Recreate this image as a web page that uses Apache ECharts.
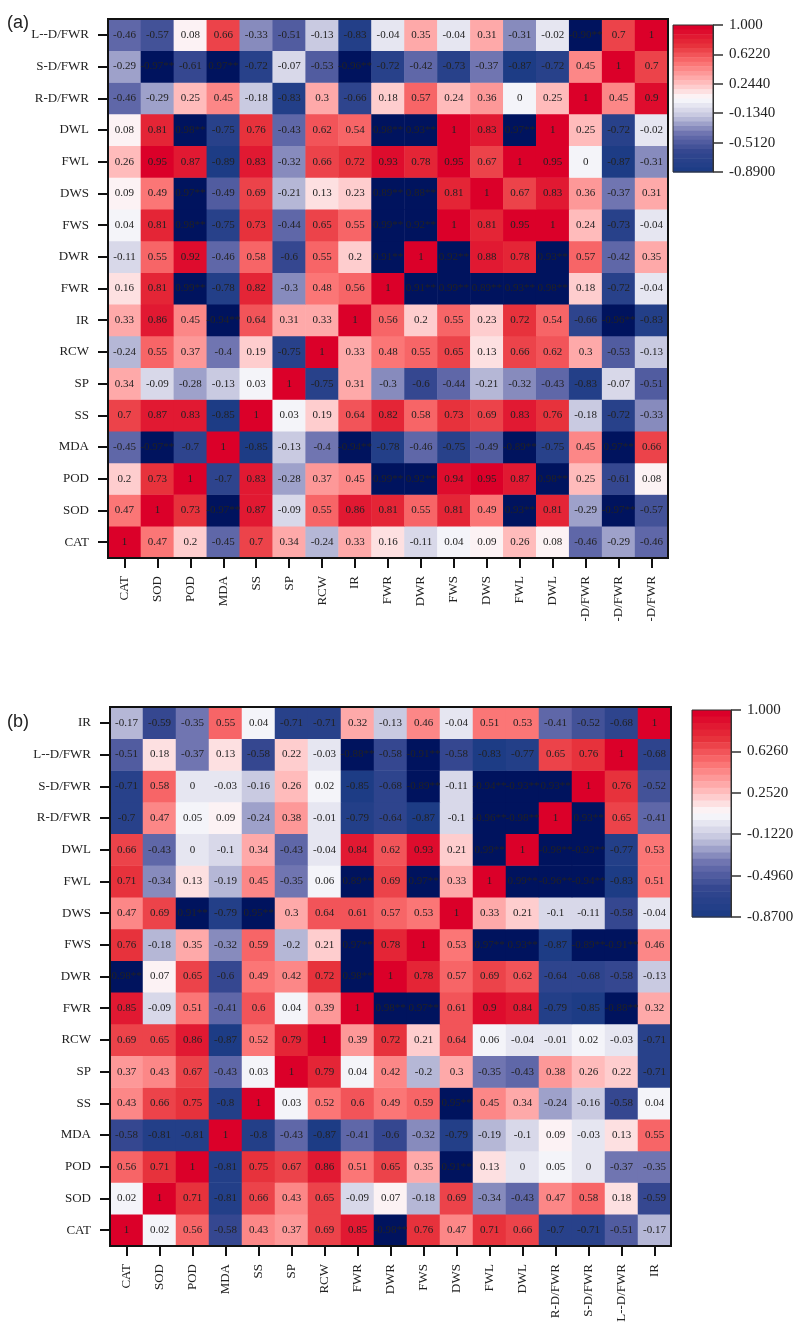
<!DOCTYPE html>
<html><head><meta charset="utf-8">
<style>html,body{margin:0;padding:0;background:#fff}#c{width:800px;height:1325px}</style>
<script src="https://cdn.jsdelivr.net/npm/echarts@6/dist/echarts.min.js"></script>
</head><body><div id="c"></div>
<script>
// Rows are listed bottom-to-top, columns left-to-right. Strings are the starred cells drawn navy.
const yLabelsA = ['CAT','SOD','POD','MDA','SS','SP','RCW','IR','FWR','DWR','FWS','DWS','FWL','DWL','R-D/FWR','S-D/FWR','L--D/FWR'];
const xLabelsA = ['CAT','SOD','POD','MDA','SS','SP','RCW','IR','FWR','DWR','FWS','DWS','FWL','DWL','-D/FWR','-D/FWR','-D/FWR'];
const matrixA = [
 [1,0.47,0.2,-0.45,0.7,0.34,-0.24,0.33,0.16,-0.11,0.04,0.09,0.26,0.08,-0.46,-0.29,-0.46],
 [0.47,1,0.73,'-0.97**',0.87,-0.09,0.55,0.86,0.81,0.55,0.81,0.49,'0.93**',0.81,-0.29,'-0.97**',-0.57],
 [0.2,0.73,1,-0.7,0.83,-0.28,0.37,0.45,'0.99**','0.92**',0.94,0.95,0.87,'0.98**',0.25,-0.61,0.08],
 [-0.45,'-0.97**',-0.7,1,-0.85,-0.13,-0.4,'-0.94**',-0.78,-0.46,-0.75,-0.49,'-0.89**',-0.75,0.45,'0.97**',0.66],
 [0.7,0.87,0.83,-0.85,1,0.03,0.19,0.64,0.82,0.58,0.73,0.69,0.83,0.76,-0.18,-0.72,-0.33],
 [0.34,-0.09,-0.28,-0.13,0.03,1,-0.75,0.31,-0.3,-0.6,-0.44,-0.21,-0.32,-0.43,-0.83,-0.07,-0.51],
 [-0.24,0.55,0.37,-0.4,0.19,-0.75,1,0.33,0.48,0.55,0.65,0.13,0.66,0.62,0.3,-0.53,-0.13],
 [0.33,0.86,0.45,'-0.94**',0.64,0.31,0.33,1,0.56,0.2,0.55,0.23,0.72,0.54,-0.66,'-0.96**',-0.83],
 [0.16,0.81,'0.99**',-0.78,0.82,-0.3,0.48,0.56,1,'0.91**','0.99**','0.89**','0.93**','0.98**',0.18,-0.72,-0.04],
 [-0.11,0.55,0.92,-0.46,0.58,-0.6,0.55,0.2,'0.91**',1,'0.92**',0.88,0.78,'0.93**',0.57,-0.42,0.35],
 [0.04,0.81,'0.98**',-0.75,0.73,-0.44,0.65,0.55,'0.99**','0.92**',1,0.81,0.95,1,0.24,-0.73,-0.04],
 [0.09,0.49,'0.97**',-0.49,0.69,-0.21,0.13,0.23,'0.89**','0.88**',0.81,1,0.67,0.83,0.36,-0.37,0.31],
 [0.26,0.95,0.87,-0.89,0.83,-0.32,0.66,0.72,0.93,0.78,0.95,0.67,1,0.95,0,-0.87,-0.31],
 [0.08,0.81,'0.98**',-0.75,0.76,-0.43,0.62,0.54,'0.98**','0.93**',1,0.83,'0.97**',1,0.25,-0.72,-0.02],
 [-0.46,-0.29,0.25,0.45,-0.18,-0.83,0.3,-0.66,0.18,0.57,0.24,0.36,0,0.25,1,0.45,0.9],
 [-0.29,'-0.97**',-0.61,'0.97**',-0.72,-0.07,-0.53,'-0.96**',-0.72,-0.42,-0.73,-0.37,-0.87,-0.72,0.45,1,0.7],
 [-0.46,-0.57,0.08,0.66,-0.33,-0.51,-0.13,-0.83,-0.04,0.35,-0.04,0.31,-0.31,-0.02,'-0.90**',0.7,1]
];
const yLabelsB = ['CAT','SOD','POD','MDA','SS','SP','RCW','FWR','DWR','FWS','DWS','FWL','DWL','R-D/FWR','S-D/FWR','L--D/FWR','IR'];
const xLabelsB = ['CAT','SOD','POD','MDA','SS','SP','RCW','FWR','DWR','FWS','DWS','FWL','DWL','R-D/FWR','S-D/FWR','L--D/FWR','IR'];
const matrixB = [
 [1,0.02,0.56,-0.58,0.43,0.37,0.69,0.85,'-0.98**',0.76,0.47,0.71,0.66,-0.7,-0.71,-0.51,-0.17],
 [0.02,1,0.71,-0.81,0.66,0.43,0.65,-0.09,0.07,-0.18,0.69,-0.34,-0.43,0.47,0.58,0.18,-0.59],
 [0.56,0.71,1,-0.81,0.75,0.67,0.86,0.51,0.65,0.35,'0.91**',0.13,0,0.05,0,-0.37,-0.35],
 [-0.58,-0.81,-0.81,1,-0.8,-0.43,-0.87,-0.41,-0.6,-0.32,-0.79,-0.19,-0.1,0.09,-0.03,0.13,0.55],
 [0.43,0.66,0.75,-0.8,1,0.03,0.52,0.6,0.49,0.59,'0.95**',0.45,0.34,-0.24,-0.16,-0.58,0.04],
 [0.37,0.43,0.67,-0.43,0.03,1,0.79,0.04,0.42,-0.2,0.3,-0.35,-0.43,0.38,0.26,0.22,-0.71],
 [0.69,0.65,0.86,-0.87,0.52,0.79,1,0.39,0.72,0.21,0.64,0.06,-0.04,-0.01,0.02,-0.03,-0.71],
 [0.85,-0.09,0.51,-0.41,0.6,0.04,0.39,1,'0.98**','0.97**',0.61,0.9,0.84,-0.79,-0.85,'-0.88**',0.32],
 ['0.98**',0.07,0.65,-0.6,0.49,0.42,0.72,'0.98**',1,0.78,0.57,0.69,0.62,-0.64,-0.68,-0.58,-0.13],
 [0.76,-0.18,0.35,-0.32,0.59,-0.2,0.21,'0.97**',0.78,1,0.53,'0.97**','0.93**',-0.87,'-0.89**','-0.91**',0.46],
 [0.47,0.69,'0.91**',-0.79,'0.95**',0.3,0.64,0.61,0.57,0.53,1,0.33,0.21,-0.1,-0.11,-0.58,-0.04],
 [0.71,-0.34,0.13,-0.19,0.45,-0.35,0.06,'0.89**',0.69,'0.97**',0.33,1,'0.99**','-0.96**','-0.94**',-0.83,0.51],
 [0.66,-0.43,0,-0.1,0.34,-0.43,-0.04,0.84,0.62,0.93,0.21,'0.99**',1,'-0.98**','-0.93**',-0.77,0.53],
 [-0.7,0.47,0.05,0.09,-0.24,0.38,-0.01,-0.79,-0.64,-0.87,-0.1,'-0.96**','-0.98**',1,'0.93**',0.65,-0.41],
 [-0.71,0.58,0,-0.03,-0.16,0.26,0.02,-0.85,-0.68,'-0.89**',-0.11,'-0.94**','-0.93**','0.93**',1,0.76,-0.52],
 [-0.51,0.18,-0.37,0.13,-0.58,0.22,-0.03,'-0.88**',-0.58,'-0.91**',-0.58,-0.83,-0.77,0.65,0.76,1,-0.68],
 [-0.17,-0.59,-0.35,0.55,0.04,-0.71,-0.71,0.32,-0.13,0.46,-0.04,0.51,0.53,-0.41,-0.52,-0.68,1]
];
const legendTicksA = [-0.89,-0.512,-0.134,0.244,0.622,1];
const legendLabelsA = ['-0.8900','-0.5120','-0.1340','0.2440','0.6220','1.000'];
const legendTicksB = [-0.87,-0.496,-0.122,0.252,0.626,1];
const legendLabelsB = ['-0.8700','-0.4960','-0.1220','0.2520','0.6260','1.000'];
const palette = ['#1d3c85','#33468f','#6a6fae','#c4c5de','#fbfbfd','#ffb4b4','#fb7272','#e6303a','#db0029'];
const starColor = '#00135e';
const starSentinel = 9; // outside the colour range: starred cells take the out-of-range navy
const serif = '"Liberation Serif","Times New Roman",serif';
const sans = '"Liberation Sans",Arial,sans-serif';
const ink = '#222';

function cells(matrix){
  const out = [];
  matrix.forEach((row,y)=>row.forEach((v,x)=>{
    const star = typeof v === 'string';
    out.push([x,y,star?starSentinel:v,String(v)]);
  }));
  return out;
}
const panels = [
 {m:matrixA,xl:xLabelsA,yl:yLabelsA,g:{left:108,top:19,width:560,height:539},
  bar:{left:673,top:25,width:40,height:147},lo:-0.89,ticks:legendTicksA,labels:legendLabelsA},
 {m:matrixB,xl:xLabelsB,yl:yLabelsB,g:{left:110,top:707,width:561,height:539},
  bar:{left:692,top:710,width:39,height:207},lo:-0.87,ticks:legendTicksB,labels:legendLabelsB}
];
const bands = 32;
const option = {
  backgroundColor:'#fff', animation:false,
  title:[
    {text:'(a)',left:2,top:9,textStyle:{fontFamily:sans,fontSize:18,fontWeight:'normal',color:'#222'}},
    {text:'(b)',left:2,top:708,textStyle:{fontFamily:sans,fontSize:18,fontWeight:'normal',color:'#222'}}
  ],
  grid:[],xAxis:[],yAxis:[],series:[],visualMap:[]
};
panels.forEach((p,i)=>{
  option.grid.push({...p.g,show:true,z:5,borderColor:'#111',borderWidth:2,backgroundColor:'transparent'});
  option.xAxis.push({type:'category',gridIndex:i*2,data:p.xl,position:'bottom',z:6,
    axisLine:{show:false},axisTick:{show:true,length:10,alignWithLabel:true,lineStyle:{color:'#111',width:2}},
    splitLine:{show:false},splitArea:{show:false},
    axisLabel:{interval:0,rotate:90,margin:18,fontFamily:serif,fontSize:13,color:ink}});
  option.yAxis.push({type:'category',gridIndex:i*2,data:p.yl,position:'left',z:6,
    axisLine:{show:false},axisTick:{show:true,length:10,alignWithLabel:true,lineStyle:{color:'#111',width:2}},
    splitLine:{show:false},splitArea:{show:false},
    axisLabel:{interval:0,margin:19,fontFamily:serif,fontSize:13,color:ink}});
  option.series.push({type:'heatmap',name:i?'(b)':'(a)',xAxisIndex:i*2,yAxisIndex:i*2,data:cells(p.m),
    encode:{x:0,y:1,value:2},
    progressive:0,
    label:{show:true,formatter:q=>q.value[3],fontFamily:serif,fontSize:11,color:ink},
    itemStyle:{borderWidth:0},emphasis:{disabled:true}});
  option.visualMap.push({type:'piecewise',seriesIndex:i,dimension:2,min:p.lo,max:1,splitNumber:bands,
    left:p.bar.left,top:p.bar.top,orient:'vertical',padding:0,itemGap:-0.5,
    itemWidth:p.bar.width,itemHeight:p.bar.height/bands+0.5,itemSymbol:'rect',showLabel:false,
    selectedMode:false,hoverLink:false,
    inRange:{color:palette},outOfRange:{color:starColor}});
  // colour-bar axis: ticks and labels at the reference's levels
  option.grid.push({...p.bar,show:true,z:5,borderColor:'#333',borderWidth:1,backgroundColor:'transparent'});
  option.xAxis.push({type:'value',gridIndex:i*2+1,min:0,max:1,show:false});
  option.yAxis.push({type:'value',gridIndex:i*2+1,min:p.lo,max:1,position:'right',z:6,
    splitLine:{show:false},
    axisLine:{show:true,onZero:false,lineStyle:{color:'#333',width:1}},
    axisTick:{show:true,length:10,customValues:p.ticks,lineStyle:{color:'#333',width:1.5}},
    axisLabel:{customValues:p.ticks,margin:16,fontFamily:serif,fontSize:15,color:ink,showMinLabel:true,showMaxLabel:true,
      formatter:v=>p.labels[p.ticks.findIndex(t=>Math.abs(t-v)<1e-6)]}});
});
echarts.init(document.getElementById('c'),null,{renderer:'canvas'}).setOption(option);
</script></body></html>
